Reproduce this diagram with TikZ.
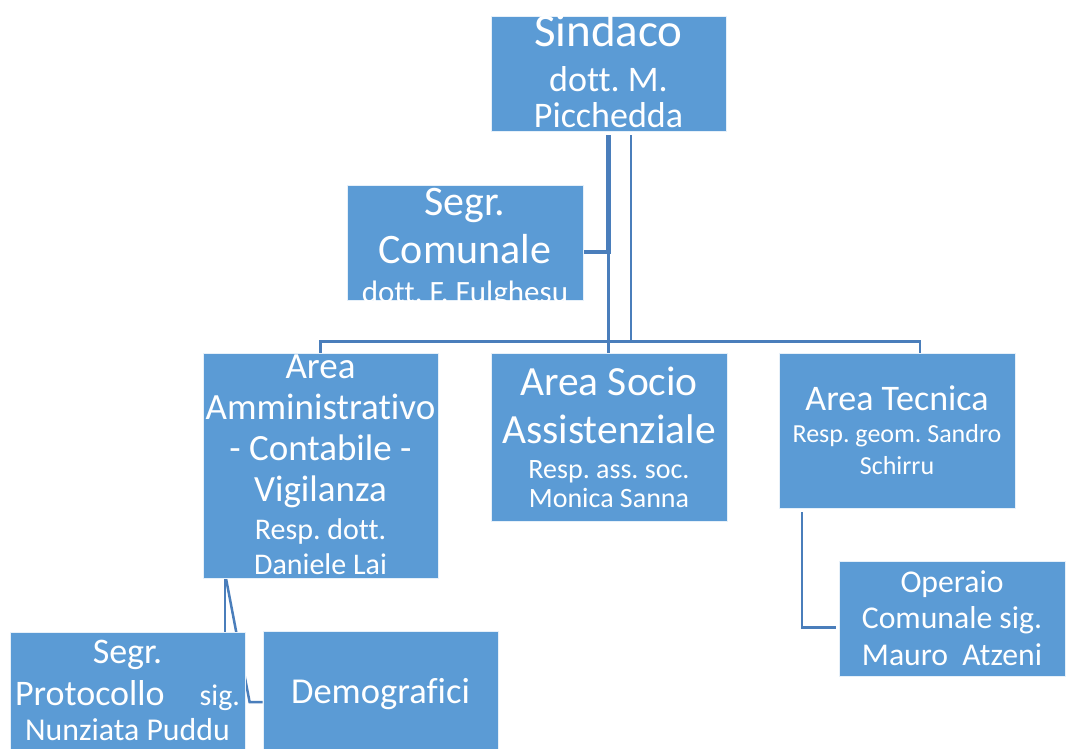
\documentclass[tikz,border=0pt]{standalone}
\usepackage{fontspec}
\setmainfont{Carlito}[Ligatures=NoCommon]
\usepackage{xcolor}
\usepackage{tikz}
\usetikzlibrary{positioning,backgrounds}

\definecolor{boxblue}{RGB}{91,155,213}
\definecolor{linkblue}{RGB}{74,126,187}

\begin{document}
\frenchspacing
\begin{tikzpicture}[x=1pt, y=-1pt,
    unit/.style={fill=boxblue, draw=white!85!boxblue, line width=0.8pt, inner sep=0pt},
    label/.style={text=white, inner sep=0pt, align=flush center, anchor=base, text width=250pt},
    link/.style={draw=linkblue, line width=2.5pt},
    linkthick/.style={draw=linkblue, line width=4.5pt}]
    \useasboundingbox (0,0) rectangle (1066,749);

    % Boxes
    \node[unit, minimum width=235pt, minimum height=115pt] (sindaco) at (608.5,73.5) {};
    \node[unit, minimum width=236pt, minimum height=115pt] (segr) at (465,242.5) {};
    \node[unit, minimum width=235pt, minimum height=225pt] (amm) at (320.5,465.5) {};
    \node[unit, minimum width=236pt, minimum height=168pt] (socio) at (609,437) {};
    \node[unit, minimum width=236pt, minimum height=155pt] (tec) at (897,430.5) {};
    \node[unit, minimum width=226pt, minimum height=115pt] (oper) at (952,618.5) {};
    \node[unit, minimum width=235pt, minimum height=117pt] (proto) at (127.5,690.5) {};
    \node[unit, minimum width=235pt, minimum height=118pt] (demo) at (380.5,690) {};

    % Texts
    \node[label, font=\fontsize{36}{36}\selectfont] (sindacoT) at (608.5,47)
        {{\fontsize{47}{47}\selectfont Sindaco}\\[9pt]dott. M.\\Picchedda};
    \begin{scope}
        \clip (segr.south west) rectangle (segr.north east);
        \node[label, font=\fontsize{42}{48}\selectfont] (segrT) at (465,215)
            {Segr.\\Comunale\\[-9pt]{\fontsize{31}{31}\selectfont dott. F. Fulghesu}};
    \end{scope}
    \node[label, font=\fontsize{37}{41}\selectfont] (ammT) at (320.5,378)
        {Area\\Amministrativo\\- Contabile -\\Vigilanza\\[-3pt]{\fontsize{30}{30}\selectfont Resp. dott.}\\[-6pt]{\fontsize{30}{30}\selectfont Daniele Lai}};
    \node[label, font=\fontsize{41.5}{48}\selectfont] (socioT) at (609,395)
        {Area Socio\\Assistenziale\\[-13pt]{\fontsize{28}{28}\selectfont Resp. ass. soc.}\\[-19pt]{\fontsize{28}{28}\selectfont Monica Sanna}};
    \node[label, font=\fontsize{26}{32}\selectfont] (tecT) at (897,410)
        {{\fontsize{36}{36}\selectfont Area Tecnica}\\Resp. geom. Sandro\\Schirru};
    \node[label, font=\fontsize{31.7}{36.5}\selectfont] (operT) at (952,592)
        {Operaio\\Comunale sig.\\Mauro\ \ Atzeni};
    \node[label, font=\fontsize{36}{42}\selectfont] (protoT) at (127.5,663)
        {Segr.\\Protocollo\hspace{35pt}{\fontsize{30}{30}\selectfont sig.}\\[-7pt]{\fontsize{31.8}{31.8}\selectfont Nunziata Puddu}};
    \node[label, font=\fontsize{36.5}{36.5}\selectfont] (demoT) at (380.5,703) {Demografici};

    % Connectors
    \begin{scope}[on background layer]
        \coordinate (segrjoin) at ([yshift=-9.5pt]segr.east);
        \coordinate (bus) at ([yshift=11pt]socio.north);
        \draw[linkthick, shorten <=4pt] (sindaco.south) |- (segrjoin);
        \draw[link] (sindaco.south |- segrjoin) -- (sindaco.south |- socio.north);
        \draw[link, shorten <=4pt] ([xshift=22.5pt]sindaco.south) -- ([xshift=22.5pt]sindaco.south |- bus);
        \draw[link] (amm.north) |- (bus) -| ([xshift=23pt]tec.north);
        \draw[link] ([xshift=-95.5pt]amm.south) -- ([xshift=97.5pt]proto.north);
        \draw[link] ([xshift=-94.5pt]amm.south) -- ([xshift=-13pt,yshift=-12pt]demo.west) -- ([yshift=-12pt]demo.west);
        \draw[link, shorten <=4pt, shorten >=3pt] ([xshift=-95pt]tec.south) |- ([yshift=-9pt]oper.west);
    \end{scope}
\end{tikzpicture}
\end{document}
